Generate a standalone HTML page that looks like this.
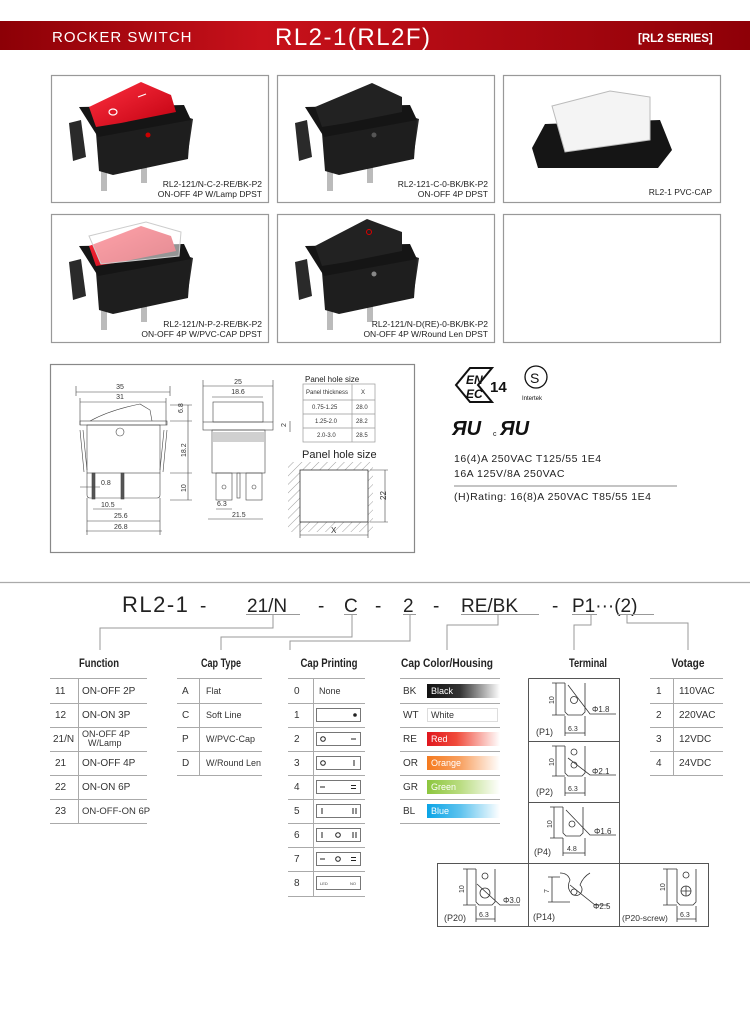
<!DOCTYPE html>
<html><head><meta charset="utf-8">
<style>
html,body{margin:0;padding:0;background:#fff;}
svg{display:block;}
text{font-family:"Liberation Sans",sans-serif;}
.n{font-family:"Liberation Sans Narrow","Liberation Sans",sans-serif;}
.t{font-size:10px;fill:#333;}
.l{stroke:#999;stroke-width:1;fill:none;}
.d{stroke:#444;stroke-width:0.6;fill:none;}
.dt{font-size:7px;fill:#333;}
.ttl{font-size:12px;font-weight:bold;fill:#222;}
</style></head><body>
<svg width="750" height="1016" viewBox="0 0 750 1016" xmlns="http://www.w3.org/2000/svg">
<defs>
<linearGradient id="hdr" x1="0" x2="1" y1="0" y2="0">
<stop offset="0" stop-color="#8c0006"/><stop offset="0.35" stop-color="#c8111b"/><stop offset="1" stop-color="#8e0007"/></linearGradient>
<linearGradient id="gBK" x1="0" x2="1"><stop offset="0" stop-color="#111"/><stop offset="0.45" stop-color="#333"/><stop offset="1" stop-color="#fff"/></linearGradient>
<linearGradient id="gRE" x1="0" x2="1"><stop offset="0" stop-color="#e0161e"/><stop offset="0.4" stop-color="#f04a3a"/><stop offset="1" stop-color="#fff"/></linearGradient>
<linearGradient id="gOR" x1="0" x2="1"><stop offset="0" stop-color="#f57a1e"/><stop offset="0.45" stop-color="#f8a060"/><stop offset="1" stop-color="#fff"/></linearGradient>
<linearGradient id="gGR" x1="0" x2="1"><stop offset="0" stop-color="#8cc63e"/><stop offset="0.45" stop-color="#b9dc80"/><stop offset="1" stop-color="#fff"/></linearGradient>
<linearGradient id="gBL" x1="0" x2="1"><stop offset="0" stop-color="#0aa4e6"/><stop offset="0.45" stop-color="#5cc2ee"/><stop offset="1" stop-color="#fff"/></linearGradient>
<linearGradient id="red" x1="0" x2="1" y1="0" y2="1"><stop offset="0" stop-color="#ff3040"/><stop offset="1" stop-color="#c00010"/></linearGradient>
<pattern id="hatch" width="6" height="6" patternUnits="userSpaceOnUse" patternTransform="rotate(45)"><line x1="0" y1="0" x2="0" y2="6" stroke="#777" stroke-width="0.7"/></pattern>
<g id="sw">
<polygon points="18,48 30,45 35,82 22,86" fill="#2a2a2a"/>
<polygon points="130,40 142,44 137,78 128,75" fill="#2a2a2a"/>
<polygon points="50,88 56,88 56,116 50,116" fill="#bbb"/>
<polygon points="90,88 96,88 96,108 90,108" fill="#bbb"/>
<polygon points="45,58 140,44 137,84 62,100 48,96" fill="#1e1e1e"/>
<polygon points="28,32 133,30 140,45 47,62" fill="#151515"/>
</g>
</defs>

<!-- header -->
<rect x="0" y="21" width="750" height="29" fill="url(#hdr)"/>
<text x="52" y="42" font-size="15" fill="#fff" letter-spacing="1">ROCKER SWITCH</text>
<text x="275" y="45" font-size="24" fill="#fff" letter-spacing="1.5">RL2-1(RL2F)</text>
<text x="638" y="42" class="n" font-size="11.5" font-weight="bold" fill="#fff">[RL2 SERIES]</text>

<!-- photo boxes -->
<g fill="#fff" stroke="#999" stroke-width="1.2">
<rect x="51.5" y="75.5" width="217" height="127"/>
<rect x="277.5" y="75.5" width="217" height="127"/>
<rect x="503.5" y="75.5" width="217" height="127"/>
<rect x="51.5" y="214.5" width="217" height="128"/>
<rect x="277.5" y="214.5" width="217" height="128"/>
<rect x="503.5" y="214.5" width="217" height="128"/>
</g>
<!-- box1 -->
<g transform="translate(51,75)"><use href="#sw"/>
<polygon points="38,32 90,7 120,20 125,37 70,48 45,52" fill="url(#red)"/>
<ellipse cx="62" cy="37" rx="4" ry="3" fill="none" stroke="#fff" stroke-width="1.2"/>
<line x1="87" y1="22" x2="95" y2="19" stroke="#fff" stroke-width="1.2"/>
<circle cx="97" cy="60" r="2.5" fill="#c00"/></g>
<text x="262" y="187" font-size="8.5" fill="#222" text-anchor="end">RL2-121/N-C-2-RE/BK-P2</text>
<text x="262" y="197" font-size="8.5" fill="#222" text-anchor="end">ON-OFF 4P W/Lamp DPST</text>
<!-- box2 -->
<g transform="translate(277,75)"><use href="#sw"/>
<polygon points="38,32 95,8 125,22 125,37 70,48 45,52" fill="#222"/>
<circle cx="97" cy="60" r="2.5" fill="#555"/></g>
<text x="488" y="187" font-size="8.5" fill="#222" text-anchor="end">RL2-121-C-0-BK/BK-P2</text>
<text x="488" y="197" font-size="8.5" fill="#222" text-anchor="end">ON-OFF 4P DPST</text>
<!-- box3 -->
<polygon points="545,124 660,120 672,150 658,168 538,168 532,148" fill="#151515"/>
<polygon points="552,106 610,91 650,97 650,140 565,152" fill="#f4f4f4" stroke="#bbb"/>
<text x="712" y="195" font-size="8.5" fill="#222" text-anchor="end">RL2-1  PVC-CAP</text>
<!-- box4 -->
<g transform="translate(51,214)"><use href="#sw"/>
<polygon points="38,32 90,12 120,22 125,37 70,48 45,52" fill="url(#red)"/>
<polygon points="38,22 95,8 130,18 128,42 50,50" fill="#fff" fill-opacity="0.55" stroke="#ccc"/></g>
<text x="262" y="327" font-size="8.5" fill="#222" text-anchor="end">RL2-121/N-P-2-RE/BK-P2</text>
<text x="262" y="337" font-size="8.5" fill="#222" text-anchor="end">ON-OFF 4P W/PVC-CAP DPST</text>
<!-- box5 -->
<g transform="translate(277,214)"><use href="#sw"/>
<polygon points="38,32 90,5 125,18 125,37 70,48 45,52" fill="#222"/>
<circle cx="92" cy="18" r="2.5" fill="none" stroke="#d00" stroke-width="1"/>
<circle cx="97" cy="60" r="2.5" fill="#888"/></g>
<text x="488" y="327" font-size="8.5" fill="#222" text-anchor="end">RL2-121/N-D(RE)-0-BK/BK-P2</text>
<text x="488" y="337" font-size="8.5" fill="#222" text-anchor="end">ON-OFF 4P W/Round Len DPST</text>

<!-- drawing box -->
<rect x="50.5" y="364.5" width="364" height="188" fill="#fff" stroke="#888" stroke-width="1.2"/>
<g class="d" stroke="#333" stroke-width="0.8">
<path d="M90,421 Q110,410 140,404 L150,410 L152,421" fill="#fff"/>
<rect x="80" y="421" width="87" height="4"/>
<rect x="87" y="425" width="73" height="48"/>
<path d="M87,473 L87,495 Q87,498 90,498 L157,498 Q160,498 160,495 L160,473"/>
<path d="M80,430 L84,472 M83,430 L87,470 M167,430 L163,472 M164,430 L160,470"/>
<circle cx="120" cy="432" r="4"/>
<rect x="92" y="473" width="3" height="26" fill="#555"/><rect x="121" y="473" width="3" height="26" fill="#555"/>
<rect x="213" y="402" width="50" height="20"/>
<rect x="203" y="422" width="70" height="8"/>
<rect x="212" y="430" width="53" height="43"/>
<path d="M213,433 H264 M213,435 H264 M213,437 H264 M213,439 H264 M213,441 H264"/>
<rect x="216" y="473" width="16" height="27"/><rect x="246" y="473" width="16" height="27"/>
<rect x="237" y="473" width="3" height="25"/>
<circle cx="224" cy="487" r="2"/><circle cx="254" cy="487" r="2"/>
</g>
<g class="d">
<path d="M76,392 H170 M80,402 H166 M76,386 V396 M170,386 V396 M80,398 V425 M166,398 V425"/>
<path d="M188,405 V500 M170,405 H192 M170,421 H192 M170,473 H192 M170,500 H192"/>
<path d="M80,487 H100 M93,509 H122 M87,521 H160 M86,531 H162 M87,498 V535 M160,498 V535"/>
<path d="M203,386 H273 M212,397 H263 M203,380 V422 M273,380 V422 M208,519 H263 M216,509 H232 M290,421 V432"/>
</g>
<g class="dt" font-size="7.5">
<text x="120" y="389" text-anchor="middle">35</text><text x="120" y="399" text-anchor="middle">31</text>
<text x="238" y="384" text-anchor="middle">25</text><text x="238" y="394" text-anchor="middle">18.6</text>
<text transform="translate(183,413) rotate(-90)">6.8</text>
<text transform="translate(186,457) rotate(-90)">18.2</text>
<text transform="translate(186,492) rotate(-90)">10</text>
<text transform="translate(286,427) rotate(-90)">2</text>
<text x="101" y="485">0.8</text><text x="101" y="507">10.5</text>
<text x="114" y="518">25.6</text><text x="114" y="529">26.8</text>
<text x="217" y="506">6.3</text><text x="232" y="517">21.5</text>
</g>
<text x="305" y="382" font-size="8" fill="#222">Panel hole size</text>
<g stroke="#999" stroke-width="0.7" fill="none">
<rect x="303" y="384" width="72" height="58"/>
<path d="M303,400 H375 M303,414 H375 M303,428 H375 M352,384 V442"/></g>
<g font-size="6" fill="#333">
<text x="306" y="394">Panel thickness</text><text x="361" y="394">X</text>
<text x="312" y="409">0.75-1.25</text><text x="356" y="409">28.0</text>
<text x="315" y="423">1.25-2.0</text><text x="356" y="423">28.2</text>
<text x="317" y="437">2.0-3.0</text><text x="356" y="437">28.5</text></g>
<text x="302" y="458" font-size="11" fill="#222">Panel hole size</text>
<rect x="288" y="462" width="85" height="70" fill="url(#hatch)"/>
<rect x="300" y="470" width="68" height="52" fill="#fff" stroke="#333" stroke-width="0.8"/>
<g class="d"><path d="M385,470 V522 M370,470 H388 M370,522 H388 M300,535 H368 M300,522 V538 M368,522 V538"/></g>
<text transform="translate(386,500) rotate(-90)" font-size="8" fill="#333">22</text>
<text x="331" y="533" font-size="8" fill="#333">X</text>

<!-- certs -->
<g fill="#111">
<polygon points="470,368 492,368 478,385 492,402 470,402 456,385" fill="none" stroke="#111" stroke-width="2"/>
<text x="466" y="384" font-size="12" font-weight="bold" font-style="italic">EN</text>
<text x="466" y="398" font-size="12" font-weight="bold" font-style="italic">EC</text>
<text x="490" y="392" font-size="15" font-weight="bold">14</text>
<circle cx="536" cy="377" r="11" fill="none" stroke="#111" stroke-width="1.3"/>
<text x="530" y="383" font-size="14">S</text>
<text x="522" y="400" font-size="6">Intertek</text>
<text x="452" y="435" font-size="20" font-weight="bold" font-style="italic">ЯU</text>
<text x="493" y="436" font-size="7">c</text>
<text x="500" y="435" font-size="20" font-weight="bold" font-style="italic">ЯU</text>
</g>
<g font-size="10.5" fill="#222" letter-spacing="0.5">
<text x="454" y="462">16(4)A  250VAC  T125/55  1E4</text>
<text x="454" y="477">16A  125V/8A  250VAC</text>
<text x="454" y="500">(H)Rating:  16(8)A  250VAC  T85/55  1E4</text></g>
<line x1="454" y1="486" x2="677" y2="486" stroke="#888" stroke-width="1"/>

<!-- separator -->
<line x1="0" y1="582.5" x2="750" y2="582.5" stroke="#aaa" stroke-width="1.2"/>

<!-- code -->
<text x="122" y="612" font-size="22" fill="#222" letter-spacing="1.5">RL2-1</text>
<g font-size="19" fill="#222">
<text x="200" y="612">-</text><text x="247" y="612">21/N</text><text x="318" y="612">-</text>
<text x="344" y="612">C</text><text x="375" y="612">-</text><text x="403" y="612">2</text>
<text x="433" y="612">-</text><text x="461" y="612">RE/BK</text><text x="552" y="612">-</text>
<text x="572" y="612">P1···(2)</text></g>
<g class="l" stroke="#777">
<path d="M246,614.5 H300 M344,614.5 H357 M403,614.5 H416 M461,614.5 H539 M572,614.5 H597 M617,614.5 H654"/>
<path d="M273,615 V628 H100 V650"/>
<path d="M352,615 V637 H221 V650"/>
<path d="M410,615 V641 H290 V650"/>
<path d="M498,615 V625 H447 V650"/>
<path d="M591,615 V625 H574 V650"/>
<path d="M627,615 V623 H688 V650"/>
</g>
<g class="n ttl" text-anchor="middle">
<text x="99" y="667" textLength="40" lengthAdjust="spacingAndGlyphs">Function</text>
<text x="221" y="667" textLength="40" lengthAdjust="spacingAndGlyphs">Cap Type</text>
<text x="329" y="667" textLength="57" lengthAdjust="spacingAndGlyphs">Cap Printing</text>
<text x="447" y="667" textLength="92" lengthAdjust="spacingAndGlyphs">Cap Color/Housing</text>
<text x="588" y="667" textLength="38" lengthAdjust="spacingAndGlyphs">Terminal</text>
<text x="688" y="667" textLength="33" lengthAdjust="spacingAndGlyphs">Votage</text></g>

<!-- tables -->
<g stroke="#aaa" stroke-width="1">
<path d="M50,678.5 H147 M50,703.5 H147 M50,727.5 H147 M50,751.5 H147 M50,775.5 H147 M50,799.5 H147 M50,823.5 H147 M78.5,678 V823"/>
<path d="M177,678.5 H262 M177,703.5 H262 M177,727.5 H262 M177,751.5 H262 M177,775.5 H262 M199.5,678 V775"/>
<path d="M288,678.5 H365 M288,703.5 H365 M288,727.5 H365 M288,751.5 H365 M288,775.5 H365 M288,799.5 H365 M288,823.5 H365 M288,847.5 H365 M288,871.5 H365 M288,896.5 H365 M313.5,678 V896"/>
<path d="M400,678.5 H500 M400,703.5 H500 M400,727.5 H500 M400,751.5 H500 M400,775.5 H500 M400,799.5 H500 M400,823.5 H500"/>
<path d="M650,678.5 H723 M650,703.5 H723 M650,727.5 H723 M650,751.5 H723 M650,775.5 H723 M673.5,678 V775"/>
</g>
<g class="t">
<text x="55" y="694">11</text><text x="82" y="694">ON-OFF  2P</text>
<text x="55" y="718">12</text><text x="82" y="718">ON-ON   3P</text>
<text x="53" y="742">21/N</text><text x="82" y="737" font-size="9">ON-OFF 4P</text><text x="88" y="746" font-size="9">W/Lamp</text>
<text x="55" y="766">21</text><text x="82" y="766">ON-OFF  4P</text>
<text x="55" y="790">22</text><text x="82" y="790">ON-ON    6P</text>
<text x="55" y="814">23</text><text x="82" y="814" font-size="9.5">ON-OFF-ON  6P</text>
<text x="182" y="694">A</text><text x="206" y="694" font-size="9">Flat</text>
<text x="182" y="718">C</text><text x="206" y="718" font-size="9">Soft   Line</text>
<text x="182" y="742">P</text><text x="206" y="742" font-size="9">W/PVC-Cap</text>
<text x="182" y="766">D</text><text x="206" y="766" font-size="9">W/Round Len</text>
<text x="294" y="694">0</text><text x="319" y="694" font-size="9">None</text>
<text x="294" y="718">1</text><text x="294" y="742">2</text><text x="294" y="766">3</text><text x="294" y="790">4</text>
<text x="294" y="814">5</text><text x="294" y="838">6</text><text x="294" y="862">7</text><text x="294" y="886">8</text>
<text x="403" y="694">BK</text><text x="403" y="718">WT</text><text x="403" y="742">RE</text>
<text x="403" y="766">OR</text><text x="403" y="790">GR</text><text x="403" y="814">BL</text>
<text x="656" y="694">1</text><text x="679" y="694">110VAC</text>
<text x="656" y="718">2</text><text x="679" y="718">220VAC</text>
<text x="656" y="742">3</text><text x="679" y="742">12VDC</text>
<text x="656" y="766">4</text><text x="679" y="766">24VDC</text>
</g>
<g stroke="#555" stroke-width="0.8" fill="#fff">
<rect x="316.5" y="708.5" width="44" height="13"/><rect x="316.5" y="732.5" width="44" height="13"/>
<rect x="316.5" y="756.5" width="44" height="13"/><rect x="316.5" y="780.5" width="44" height="13"/>
<rect x="316.5" y="804.5" width="44" height="13"/><rect x="316.5" y="828.5" width="44" height="13"/>
<rect x="316.5" y="852.5" width="44" height="13"/><rect x="316.5" y="876.5" width="44" height="13"/>
</g>
<g stroke="#222" stroke-width="1" fill="none">
<circle cx="355" cy="715" r="1.3" fill="#222"/>
<circle cx="323" cy="739" r="2.3"/><path d="M351,739 H356"/>
<circle cx="323" cy="763" r="2.3"/><path d="M354,760 V766"/>
<path d="M320,787 H325 M351,785.5 H356 M351,788.5 H356"/>
<path d="M322,808 V814 M353,808 V814 M356,808 V814"/>
<path d="M322,832 V838 M353,832 V838 M356,832 V838"/><circle cx="338" cy="835" r="2.3"/>
<path d="M320,859 H325 M351,857.5 H356 M351,860.5 H356"/><circle cx="338" cy="859" r="2.3"/>
</g>
<g font-size="4" fill="#444"><text x="320" y="885">LED</text><text x="350" y="885">NO</text></g>
<rect x="427" y="684" width="73" height="14" fill="url(#gBK)"/>
<rect x="427.5" y="708.5" width="70" height="13" fill="#fff" stroke="#ddd"/>
<rect x="427" y="732" width="73" height="14" fill="url(#gRE)"/>
<rect x="427" y="756" width="73" height="14" fill="url(#gOR)"/>
<rect x="427" y="780" width="73" height="14" fill="url(#gGR)"/>
<rect x="427" y="804" width="73" height="14" fill="url(#gBL)"/>
<g font-size="9" fill="#fff"><text x="431" y="694">Black</text><text x="431" y="742">Red</text><text x="431" y="766">Orange</text><text x="431" y="790">Green</text><text x="431" y="814">Blue</text></g>
<text x="431" y="718" font-size="9" fill="#333">White</text>

<!-- terminal box -->
<g stroke="#555" stroke-width="1" fill="none">
<path d="M528.5,678.5 H619.5 V926.5 M528.5,678.5 V926.5 M528.5,741.5 H619.5 M528.5,802.5 H619.5"/>
<rect x="437.5" y="863.5" width="271" height="63"/>
</g>
<g stroke="#333" stroke-width="0.8" fill="none">
<path d="M565,683 V712 L568,715 H582 L585,712 V683"/><circle cx="574" cy="700" r="3.5"/>
<path d="M568,685 L590,714 H616 M556,683 V715 M552,683 H565 M552,715 H565 M565,733 H585 M565,716 V736 M585,716 V736"/>
<path d="M565,746 V773 L568,776 H582 L585,773 V746"/><circle cx="574" cy="752" r="3"/><circle cx="574" cy="765" r="3"/>
<path d="M568,758 L590,775 H616 M556,746 V776 M552,746 H565 M552,776 H565 M565,793 H585 M565,777 V796 M585,777 V796"/>
<path d="M563,807 V833 L566,836 H580 L583,833 V807"/><circle cx="572" cy="824" r="3"/>
<path d="M566,810 L590,835 H616 M554,807 V838 M550,807 H563 M550,838 H563 M563,853 H585 M563,838 V856 M585,838 V856"/>
<path d="M476,869 V902 L479,905 H492 L495,902 V869"/><circle cx="485" cy="876" r="3"/><circle cx="485" cy="893" r="5"/>
<path d="M477,884 L500,905 H520 M467,869 V905 M463,869 H476 M463,905 H476 M476,919 H495 M476,906 V922 M495,906 V922"/>
<path d="M560,873 Q568,873 570,880 Q566,888 572,894 A6,6 0 1 0 580,885 Q583,877 590,873"/><circle cx="574" cy="892" r="3"/>
<path d="M570,885 L595,905 H608 M552,877 V902 M548,877 H560 M548,902 H570"/>
<path d="M677,869 V902 L680,905 H693 L696,902 V869"/><circle cx="686" cy="875" r="3"/><circle cx="686" cy="891" r="5"/>
<path d="M681,891 H691 M686,886 V896 M667,869 V905 M663,869 H677 M663,905 H677 M677,919 H696 M677,906 V922 M696,906 V922"/>
</g>
<g font-size="8" fill="#333">
<text transform="translate(554,704) rotate(-90)" font-size="7">10</text>
<text x="592" y="712">Φ1.8</text><text x="568" y="731" font-size="7">6.3</text><text x="536" y="735" font-size="9">(P1)</text>
<text transform="translate(554,766) rotate(-90)" font-size="7">10</text>
<text x="592" y="774">Φ2.1</text><text x="568" y="791" font-size="7">6.3</text><text x="536" y="795" font-size="9">(P2)</text>
<text transform="translate(552,828) rotate(-90)" font-size="7">10</text>
<text x="594" y="834">Φ1.6</text><text x="567" y="851" font-size="7">4.8</text><text x="534" y="855" font-size="9">(P4)</text>
<text transform="translate(464,893) rotate(-90)" font-size="7">10</text>
<text x="503" y="903">Φ3.0</text><text x="479" y="917" font-size="7">6.3</text><text x="444" y="921" font-size="9">(P20)</text>
<text transform="translate(549,893) rotate(-90)" font-size="7">7</text>
<text x="593" y="909">Φ2.5</text><text x="533" y="920" font-size="9">(P14)</text>
<text transform="translate(665,891) rotate(-90)" font-size="7">10</text>
<text x="680" y="917" font-size="7">6.3</text><text x="622" y="921" font-size="8.5">(P20-screw)</text>
</g>
</svg>
</body></html>
